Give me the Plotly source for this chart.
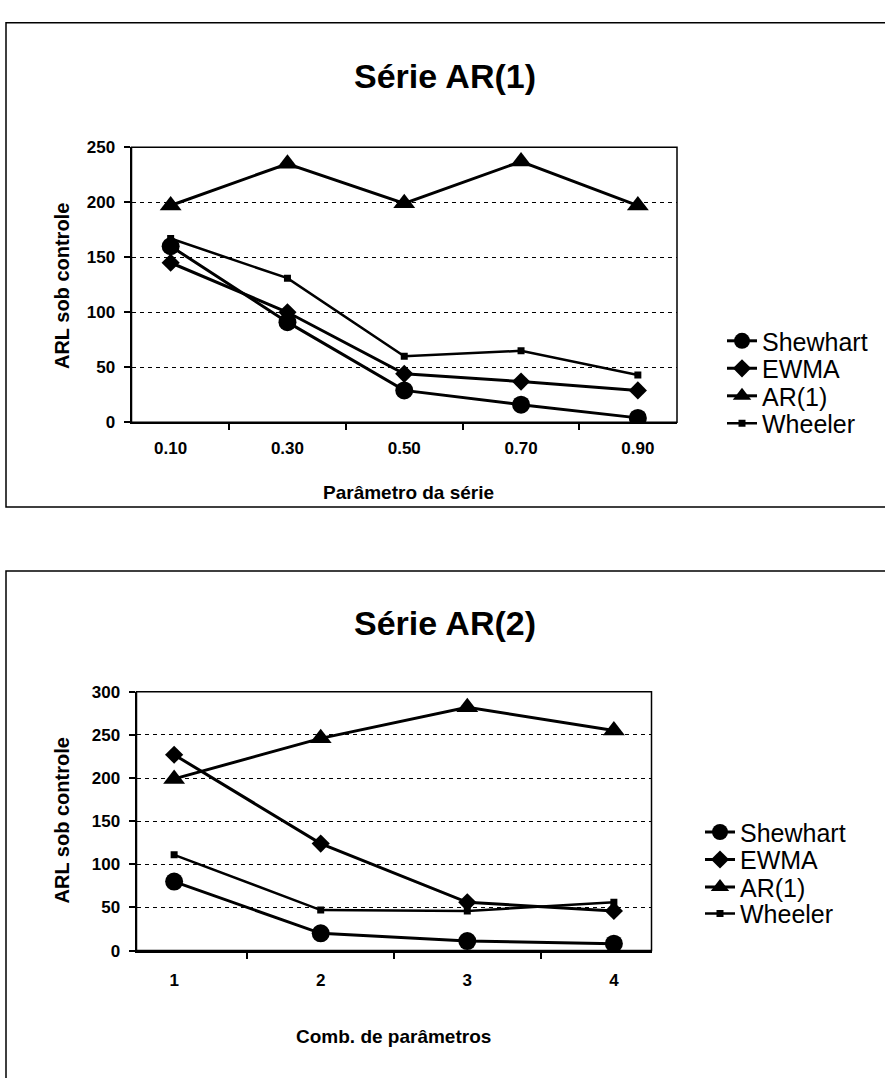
import plotly.graph_objects as go

# ---- data -------------------------------------------------------------
param_labels = ["0.10", "0.30", "0.50", "0.70", "0.90"]
ar1_shewhart = [160, 91, 29, 16, 4]
ar1_ewma = [145, 100, 44, 37, 29]
ar1_ar1 = [197, 235, 199, 237, 197]
ar1_wheeler = [167, 131, 60, 65, 43]

comb_labels = ["1", "2", "3", "4"]
ar2_shewhart = [80, 20, 11, 8]
ar2_ewma = [227, 124, 56, 46]
ar2_ar1 = [199, 246, 282, 255]
ar2_wheeler = [111, 47, 46, 56]

series_names = ["Shewhart", "EWMA", "AR(1)", "Wheeler"]

# ---- page geometry (pixels) ------------------------------------------
W, H = 885, 1078
FONT = "Liberation Sans, Arial, sans-serif"


def px_x(x):
    return x / W


def px_y(y):
    return 1 - y / H


marker_styles = {
    "Shewhart": dict(symbol="circle", size=18),
    "EWMA": dict(symbol="diamond", size=14),
    "AR(1)": dict(symbol="triangle-up", size=19),
    "Wheeler": dict(symbol="square", size=7),
}

# each legend entry sits in its own legend box so the row spacing can be set
legend_rows = {
    "top": dict(x=722, rows=[338, 366, 394, 422]),
    "bottom": dict(x=700, rows=[838, 866, 894, 921]),
}

fig = go.Figure()
legend_layout = {}
legend_counter = [0]


def next_legend_name():
    legend_counter[0] += 1
    n = legend_counter[0]
    return "legend" if n == 1 else f"legend{n}"


def add_series(xs, values_list, xa, ya, where):
    spec = legend_rows[where]
    for name, vals, row_y in zip(series_names, values_list, spec["rows"]):
        m = marker_styles[name]
        lg = next_legend_name()
        legend_layout[lg] = dict(
            x=px_x(spec["x"]), y=px_y(row_y), xanchor="left", yanchor="middle",
            font=dict(family=FONT, size=25, color="black"),
            bgcolor="rgba(0,0,0,0)", borderwidth=0,
        )
        fig.add_trace(go.Scatter(
            x=xs, y=vals, name=name, mode="lines+markers",
            xaxis=xa, yaxis=ya, legend=lg,
            line=dict(color="black", width=3 if name != "Wheeler" else 2.5),
            marker=dict(color="black", symbol=m["symbol"], size=m["size"]),
        ))


add_series(param_labels, [ar1_shewhart, ar1_ewma, ar1_ar1, ar1_wheeler],
           "x", "y", "top")
add_series(comb_labels, [ar2_shewhart, ar2_ewma, ar2_ar1, ar2_wheeler],
           "x2", "y2", "bottom")

axis_common = dict(
    showline=True, linecolor="black", linewidth=2,
    ticks="outside", ticklen=6, tickwidth=1.5, tickcolor="black",
    tickfont=dict(family=FONT, size=17, color="black", weight="bold"),
    zeroline=False, fixedrange=True,
)

fig.update_layout(
    width=W, height=H,
    margin=dict(l=0, r=0, t=0, b=0),
    paper_bgcolor="white", plot_bgcolor="white",
    font=dict(family=FONT, color="black"),
    xaxis=dict(**axis_common, type="category", tickson="boundaries",
               showgrid=False, ticklabelstandoff=9,
               domain=[px_x(131.5), px_x(677)], anchor="y"),
    yaxis=dict(**axis_common, range=[0, 250], dtick=50,
               showgrid=True, gridcolor="black", gridwidth=1,
               griddash="4px,4px", ticklabelstandoff=5,
               domain=[px_y(420.7), px_y(140.7)], anchor="x"),
    xaxis2=dict(**axis_common, type="category", tickson="boundaries",
                showgrid=False, ticklabelstandoff=13,
                domain=[px_x(136.5), px_x(651.5)], anchor="y2"),
    yaxis2=dict(**axis_common, range=[0, 300], dtick=50,
                showgrid=True, gridcolor="black", gridwidth=1,
                griddash="4px,4px", ticklabelstandoff=5,
                domain=[px_y(958.5), px_y(695)], anchor="x2"),
    showlegend=True,
    **legend_layout,
)

# plot-area frames (top and right edges)
for xr, yr in (("x domain", "y domain"), ("x2 domain", "y2 domain")):
    fig.add_shape(type="rect", xref=xr, yref=yr, x0=0, y0=0, x1=1, y1=1,
                  line=dict(color="black", width=1.5), layer="below")

# outer chart frames
fig.add_shape(type="rect", xref="paper", yref="paper",
              x0=px_x(6), x1=px_x(895), y0=px_y(507), y1=px_y(14),
              line=dict(color="black", width=1.5))
fig.add_shape(type="rect", xref="paper", yref="paper",
              x0=px_x(6), x1=px_x(895), y0=px_y(1090), y1=px_y(572),
              line=dict(color="black", width=1.5))

# titles and axis titles
texts = [
    ("Série AR(1)", 445, 68, 34, 0),
    ("Parâmetro da série", 408, 492, 19, 0),
    ("ARL sob controle", 62, 282, 20, -90),
    ("Série AR(2)", 445, 625, 34, 0),
    ("Comb. de parâmetros", 393, 1046, 19, 0),
    ("ARL sob controle", 62, 826, 20, -90),
]
for txt, x, y, size, ang in texts:
    fig.add_annotation(text=txt, x=px_x(x), y=px_y(y), xref="paper", yref="paper",
                       showarrow=False, textangle=ang, xanchor="center", yanchor="middle",
                       font=dict(family=FONT, size=size, color="black", weight="bold"))

fig.write_html("out.html")
